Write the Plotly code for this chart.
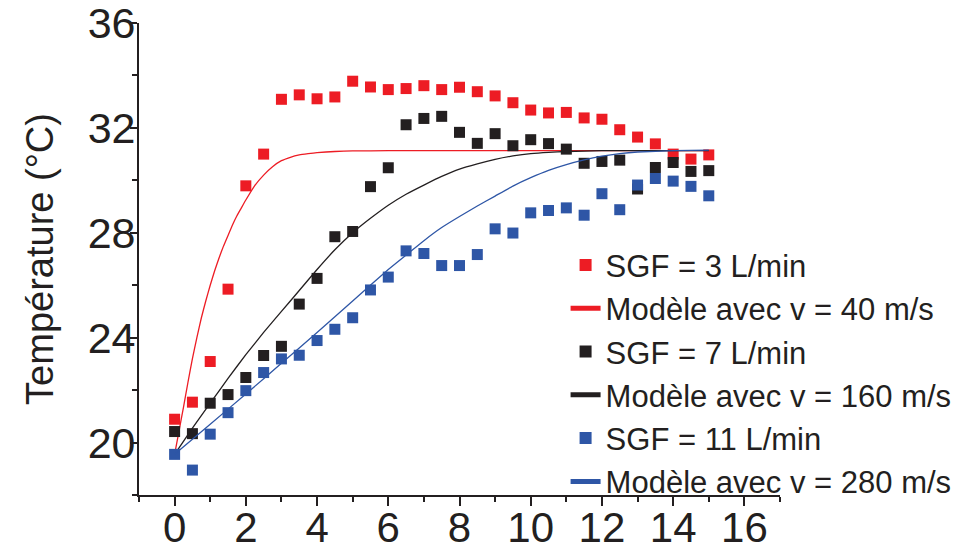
import plotly.graph_objects as go

# Measured data (time in min, temperature in °C)
t_meas = [0, 0.5, 1, 1.5, 2, 2.5, 3, 3.5, 4, 4.5, 5, 5.5, 6, 6.5, 7, 7.5, 8, 8.5, 9, 9.5,
          10, 10.5, 11, 11.5, 12, 12.5, 13, 13.5, 14, 14.5, 15]
T_sgf3 = [20.89, 21.54, 23.09, 25.85, 29.79, 31.0, 33.09, 33.26, 33.11, 33.18, 33.78, 33.56,
          33.46, 33.5, 33.61, 33.46, 33.55, 33.38, 33.22, 32.96, 32.68, 32.57, 32.59, 32.38,
          32.33, 31.93, 31.65, 31.39, 31.0, 30.81, 30.97]
T_sgf7 = [20.42, 20.34, 21.5, 21.83, 22.48, 23.32, 23.67, 25.28, 26.26, 27.85, 28.05, 29.76,
          30.48, 32.12, 32.36, 32.44, 31.83, 31.41, 31.78, 31.32, 31.55, 31.4, 31.19, 30.65,
          30.72, 30.77, 29.67, 30.49, 30.68, 30.34, 30.37]
T_sgf11 = [19.55, 18.95, 20.32, 21.14, 21.98, 22.67, 23.19, 23.33, 23.89, 24.32, 24.76, 25.82,
           26.31, 27.31, 27.21, 26.75, 26.75, 27.17, 28.15, 27.99, 28.76, 28.85, 28.95, 28.67,
           29.49, 28.88, 29.82, 30.07, 29.97, 29.77, 29.41]

# Model curves
t_mod40 = [0, 0.125, 0.25, 0.375, 0.5, 0.625, 0.75, 0.875, 1.0, 1.125, 1.25, 1.375, 1.5, 1.625,
           1.75, 1.875, 2.0, 2.25, 2.5, 2.75, 3.0, 3.25, 3.5, 3.75, 4.0, 4.5, 5, 6, 8, 10, 12, 15]
T_mod40 = [19.55, 20.45, 21.35, 22.3, 23.2, 24.0, 24.75, 25.4, 26.0, 26.55, 27.05, 27.5, 27.9, 28.3,
           28.65, 28.95, 29.25, 29.8, 30.2, 30.52, 30.75, 30.88, 30.97, 31.02, 31.06, 31.1, 31.12,
           31.13, 31.13, 31.13, 31.13, 31.13]
t_mod160 = [0, 0.5, 1, 1.5, 2, 2.5, 3, 3.5, 4, 4.5, 5, 5.5, 6, 6.5, 7, 7.5, 8, 8.5, 9, 9.5,
            10, 10.5, 11, 12, 13, 15]
T_mod160 = [19.55, 20.55, 21.5, 22.45, 23.35, 24.2, 25.0, 25.8, 26.6, 27.35, 28.0, 28.55, 29.05,
            29.47, 29.82, 30.15, 30.43, 30.63, 30.8, 30.93, 31.02, 31.07, 31.1, 31.13, 31.13, 31.13]
t_mod280 = [0, 1, 2, 3, 4, 5, 6, 6.5, 7, 7.5, 8, 8.5, 9, 9.5, 10, 10.5, 11, 11.5, 12, 12.5,
            13, 14, 15]
T_mod280 = [19.55, 20.7, 21.85, 23.02, 24.2, 25.4, 26.6, 27.15, 27.7, 28.2, 28.62, 29.02, 29.4,
            29.78, 30.1, 30.38, 30.6, 30.78, 30.92, 31.02, 31.08, 31.13, 31.15]

RED = "#ed1c24"
BLACK = "#231f20"
BLUE = "#2e56a6"
FONT = "Liberation Sans, Arial, sans-serif"

fig = go.Figure()

def markers(x, y, color, name):
    fig.add_trace(go.Scatter(x=x, y=y, mode="markers", name=name,
                             marker=dict(symbol="square", size=11, color=color, line=dict(width=0))))

def model(x, y, color, name):
    fig.add_trace(go.Scatter(x=x, y=y, mode="lines", name=name,
                             line=dict(color=color, width=1.3, shape="spline", smoothing=0.4)))

markers(t_meas, T_sgf3, RED, "SGF = 3 L/min")
model(t_mod40, T_mod40, RED, "Modèle avec v = 40 m/s")
markers(t_meas, T_sgf7, BLACK, "SGF = 7 L/min")
model(t_mod160, T_mod160, BLACK, "Modèle avec v = 160 m/s")
markers(t_meas, T_sgf11, BLUE, "SGF = 11 L/min")
model(t_mod280, T_mod280, BLUE, "Modèle avec v = 280 m/s")

fig.update_layout(
    width=976, height=550,
    margin=dict(l=131, r=204, t=15, b=63, autoexpand=False),
    paper_bgcolor="white", plot_bgcolor="white",
    font=dict(family=FONT, color=BLACK, size=42),
    showlegend=True,
    legend=dict(x=0.6655, y=0.544, xanchor="left", yanchor="top",
                bgcolor="rgba(0,0,0,0)", font=dict(size=31, family=FONT, color=BLACK),
                itemsizing="constant", tracegroupgap=0),
    xaxis=dict(range=[-1, 17], tickmode="linear", tick0=0, dtick=2, automargin=False,
               showgrid=False, zeroline=False, showline=True, linecolor=BLACK, linewidth=1.8,
               ticks="outside", ticklen=9, tickwidth=1.5, tickcolor=BLACK,
               ticklabeloverflow="allow", ticklabelstandoff=-14,
               tickfont=dict(size=42, family=FONT, color=BLACK),
               minor=dict(ticks="outside", dtick=1, tick0=0, ticklen=5, tickwidth=1.5, tickcolor=BLACK)),
    yaxis=dict(range=[18, 36], tickmode="linear", tick0=0, dtick=4, automargin=False,
               showgrid=False, zeroline=False, showline=True, linecolor=BLACK, linewidth=1.8,
               ticks="outside", ticklen=7, tickwidth=1.5, tickcolor=BLACK,
               ticklabeloverflow="allow", ticklabelstandoff=-14,
               tickfont=dict(size=43, family=FONT, color=BLACK),
               title=dict(text="Température (°C)", font=dict(size=38, family=FONT, color=BLACK), standoff=22),
               minor=dict(ticks="outside", dtick=2, tick0=0, ticklen=5, tickwidth=1.5, tickcolor=BLACK)),
)

fig.write_html("out.html")
